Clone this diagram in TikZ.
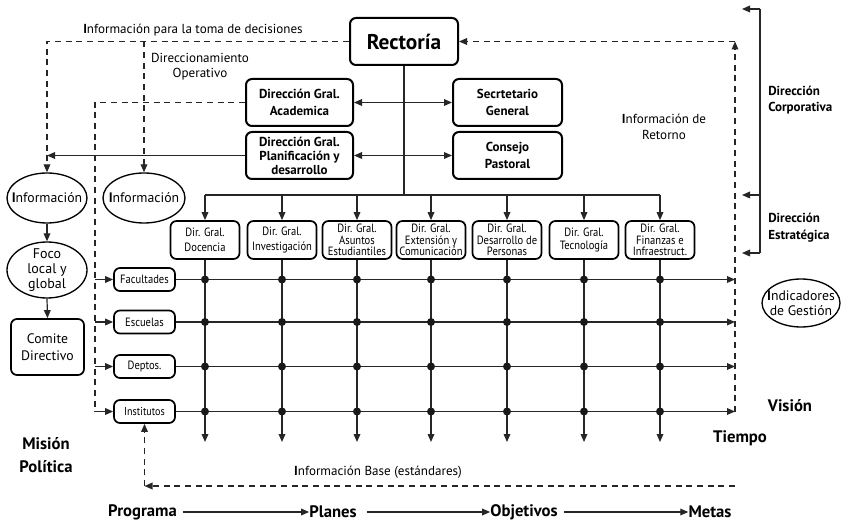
\documentclass[tikz,border=0pt]{standalone}
\usepackage{fontspec}
\setmainfont{PT Sans}
\newfontfamily\narrowfont[FakeStretch=0.88]{PT Sans}
\usetikzlibrary{arrows.meta,shapes.geometric}
\tikzset{
 bx/.style={draw, line width=1.5pt, rounded corners=4.5pt, align=center, inner sep=1pt},
 bigbox/.style={bx, minimum width=107*0.75pt, minimum height=47*0.75pt, font=\bfseries\fontsize{9.75}{10.5}\selectfont},
 dirbox/.style={bx, line width=1.3pt, minimum width=69*0.75pt, minimum height=38*0.75pt, inner sep=0.5pt, font=\narrowfont\fontsize{9}{8.7}\selectfont},
 unitbox/.style={bx, line width=1.3pt, minimum width=61*0.75pt, minimum height=23*0.75pt, font=\narrowfont\fontsize{9}{9}\selectfont},
 ell/.style={draw, ellipse, line width=1pt, inner xsep=-6pt, inner ysep=-2pt, align=center, font=\fontsize{10.3}{10}\selectfont},
 conn/.style={line width=0.9pt, draw=black!85},
 tip/.style={-{Triangle[length=6pt,width=5pt]}},
 arr/.style={conn, tip},
 dsh/.style={conn, dash pattern=on 4.5pt off 3.5pt},
 lbl/.style={align=center, font=\fontsize{9.8}{11.5}\selectfont, inner sep=0},
 blbl/.style={align=left, font=\bfseries\fontsize{9.75}{12.5}\selectfont, inner sep=0, anchor=west},
 big/.style={font=\bfseries\fontsize{12.5}{18}\selectfont, inner sep=0, align=center}
}
\begin{document}
\begin{tikzpicture}[x=0.75pt,y=-0.75pt]
\useasboundingbox[fill=white] (0,0) rectangle (841,523);

% top management
\node[bx, minimum width=108*0.75pt, minimum height=47*0.75pt, font=\bfseries\fontsize{16}{18}\selectfont] (rect) at (404,41.5) {Rectoría};
\node[bigbox] (aca) at (299.5,102.5) {Dirección Gral.\\[2pt]Academica};
\node[bigbox] (plan) at (299.5,155.5) {Dirección Gral.\\Planificación y\\desarrollo};
\node[bigbox, minimum width=109*0.75pt] (sec) at (507.5,102.5) {Secrtetario\\[2pt]General};
\node[bigbox, minimum width=109*0.75pt] (cons) at (507.5,155.5) {Consejo\\[2pt]Pastoral};

\draw[conn, {Triangle[length=6pt,width=5pt]}-{Triangle[length=6pt,width=5pt]}] (aca.east) -- (sec.west);
\draw[conn, {Triangle[length=6pt,width=5pt]}-{Triangle[length=6pt,width=5pt]}] (plan.east) -- (cons.west);

% directors row
\node[dirbox] (d1) at (205,240) {Dir. Gral.\\[3pt]Docencia};
\node[dirbox] (d2) at (282,240) {Dir. Gral.\\[3pt]Investigación};
\node[dirbox] (d3) at (357,240) {Dir. Gral.\\Asuntos\\Estudiantiles};
\node[dirbox] (d4) at (431,240) {Dir. Gral.\\Extensión y\\Comunicación};
\node[dirbox] (d5) at (507,240) {Dir. Gral.\\Desarrollo de\\Personas};
\node[dirbox] (d6) at (584,240) {Dir. Gral.\\[1pt]Tecnología};
\node[dirbox] (d7) at (660,240) {Dir. Gral.\\Finanzas e\\Infraestruct.};

\coordinate (bus) at (404,195);
\coordinate (tbot) at (0,442);
\coordinate (vis) at (735,412);
\draw[conn] (rect.south) -- (bus);
\draw[conn] (d1.north |- bus) -- (d7.north |- bus);
\foreach \i in {1,...,7} {
  \draw[arr] (d\i.north |- bus) -- (d\i.north);
  \draw[arr] (d\i.south) -- (d\i.south |- tbot);
}

% units
\node[unitbox] (u1) at (144.5,279.5) {Facultades};
\node[unitbox] (u2) at (144.5,322) {Escuelas};
\node[unitbox] (u3) at (144.5,366.5) {Deptos.};
\node[unitbox, font=\narrowfont\fontsize{8.6}{9}\selectfont] (u4) at (144.5,411.5) {Institutos};
\foreach \i in {1,...,4} {
  \draw[arr] (u\i.east) -- (u\i.east -| vis);
}
\foreach \x in {1,...,7} \foreach \i in {1,...,4} {
  \fill[black!90] (d\x.south |- u\i.east) circle (3pt);
}

% left column
\node[ell, minimum width=80*0.75pt, minimum height=50*0.75pt] (info1) at (47,198) {\textbf{I}nformación};
\node[ell, minimum width=82*0.75pt, minimum height=50*0.75pt] (info2) at (144,198) {\textbf{I}nformación};
\node[ell, minimum width=80*0.75pt, minimum height=56*0.75pt, font=\fontsize{10.5}{11}\selectfont] (foco) at (47,270) {Foco\\local y\\global};
\node[bx, line width=1.3pt, minimum width=73*0.75pt, minimum height=56*0.75pt, font=\fontsize{10.3}{13}\selectfont] (comite) at (47.5,347) {Comite\\Directivo};
\draw[arr] (info1.south) -- (foco.north);
\draw[arr] (foco.south) -- (comite.north);

% dashed information lines (left)
\draw[dsh, tip] (rect.west) -| (info1.north);
\draw[dsh, tip] (info2.north |- rect.west) -- (info2.north);
\draw[arr] (plan.west) -- (plan.west -| info1.north);
\coordinate (lx) at (95,0);
\draw[dsh] (aca.west) -- (aca.west -| lx) -- (u4.west -| lx);
\foreach \i in {1,...,4} {
  \draw[arr] (u\i.west -| lx) -- (u\i.west);
}

% dashed return lines (right)
\coordinate (rtop) at (735,41.5);
\draw[dsh, tip] (vis) -- (rtop);
\draw[dsh, tip] (rtop) -- (rect.east);

% bottom dashed
\coordinate (bb) at (735,486);
\coordinate (bl) at (u4.south |- bb);
\draw[dsh, tip] (bb) -- (bl);
\draw[dsh, tip] (bl) -- (u4.south);

% right bracket
\coordinate (k1) at (760,9);
\coordinate (k2) at (760,195);
\coordinate (k3) at (760,253);
\coordinate (k1l) at (742,9);
\coordinate (k2l) at (742,195);
\coordinate (k3l) at (742,253);
\draw[conn] (k1) -- (k3);
\draw[arr] (k1) -- (k1l);
\draw[arr] (k2) -- (k2l);
\draw[arr] (k3) -- (k3l);

% labels
\node[lbl] (t1) at (193,30) {\textbf{I}nformación para la toma de decisiones};
\node[lbl] (t2) at (200,67) {Direccionamiento\\Operativo};
\node[lbl] (t3) at (664,127) {\textbf{I}nformación de\\Retorno};
\node[blbl] (t4) at (768,100) {Dirección\\Corporativa};
\node[blbl] (t5) at (768,228) {Dirección\\Estratégica};
\node[ell, minimum width=78*0.75pt, minimum height=48*0.75pt, font=\fontsize{10.3}{11}\selectfont] (ind) at (801,303) {\textbf{I}ndicadores\\de Gestión};
\node[big] (vision) at (790,406) {Visión};
\node[big] (tiempo) at (740,438) {Tiempo};
\node[big, font=\bfseries\fontsize{12.5}{17}\selectfont] (mision) at (46,455) {Misión\\Política};
\node[lbl] (t6) at (378,472) {\textbf{I}nformación Base (estándares)};

% bottom sequence
\node[big] (prog) at (142.5,512) {Programa};
\node[big] (planes) at (333,512) {Planes};
\node[big] (obj) at (524,512) {Objetivos};
\node[big] (metas) at (710,512) {Metas};
\draw[arr] ([xshift=-6pt]prog.east) ++(14,0) coordinate (p1) -- (planes.west);
\draw[arr] (planes.east) ++(10,0) coordinate (p2) -- (obj.west);
\draw[arr] (obj.east) ++(6,0) coordinate (p3) -- (metas.west);
\end{tikzpicture}
\end{document}
